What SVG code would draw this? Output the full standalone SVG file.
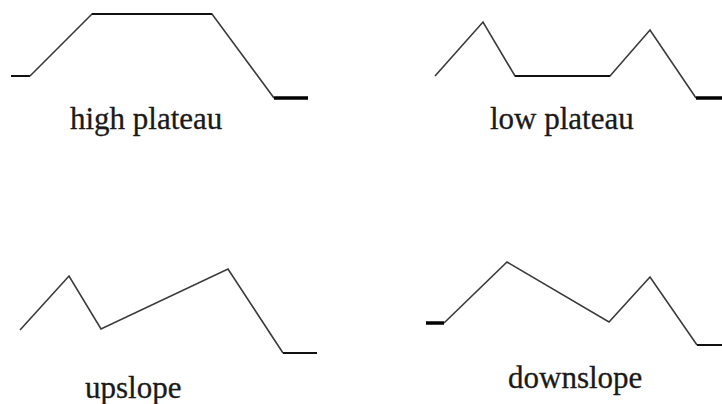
<svg xmlns="http://www.w3.org/2000/svg" width="722" height="404" viewBox="0 0 722 404">
<style>
.ln{fill:none;stroke:#3a3a3a;stroke-width:1.6;stroke-linejoin:miter}
.flat{fill:none;stroke:#111;stroke-width:2}
.thick{fill:none;stroke:#000;stroke-width:3.5}
.lbl{font-family:"Liberation Serif","Times New Roman",serif;font-size:31px;fill:#1a1a1a;stroke:#1a1a1a;stroke-width:0.3}
</style>
<rect width="722" height="404" fill="#fff"/>
<g id="high-plateau">
<polyline class="ln" points="30,76 92,14 212,14 274,98"/>
<line class="flat" x1="11" y1="76" x2="30" y2="76"/>
<line class="flat" x1="92" y1="14" x2="212" y2="14"/>
<line class="thick" x1="274" y1="98" x2="308" y2="98"/>
<text class="lbl" x="70" y="129">high plateau</text>
</g>
<g id="low-plateau">
<polyline class="ln" points="435,76 483,22 515,76 610,76 650,30 696,98"/>
<line class="flat" x1="515" y1="76" x2="610" y2="76"/>
<line class="thick" x1="696" y1="98" x2="722" y2="98"/>
<text class="lbl" x="490" y="129">low plateau</text>
</g>
<g id="upslope">
<polyline class="ln" points="20,330 69,276 101,329 228,269 283,353"/>
<line class="flat" x1="283" y1="353" x2="317" y2="353"/>
<text class="lbl" x="85" y="398">upslope</text>
</g>
<g id="downslope">
<polyline class="ln" points="444,323 507,262 609,322 650,277 697,345"/>
<line class="thick" x1="426" y1="323" x2="444" y2="323"/>
<line class="flat" x1="697" y1="345" x2="722" y2="345"/>
<text class="lbl" x="508" y="388">downslope</text>
</g>
</svg>
